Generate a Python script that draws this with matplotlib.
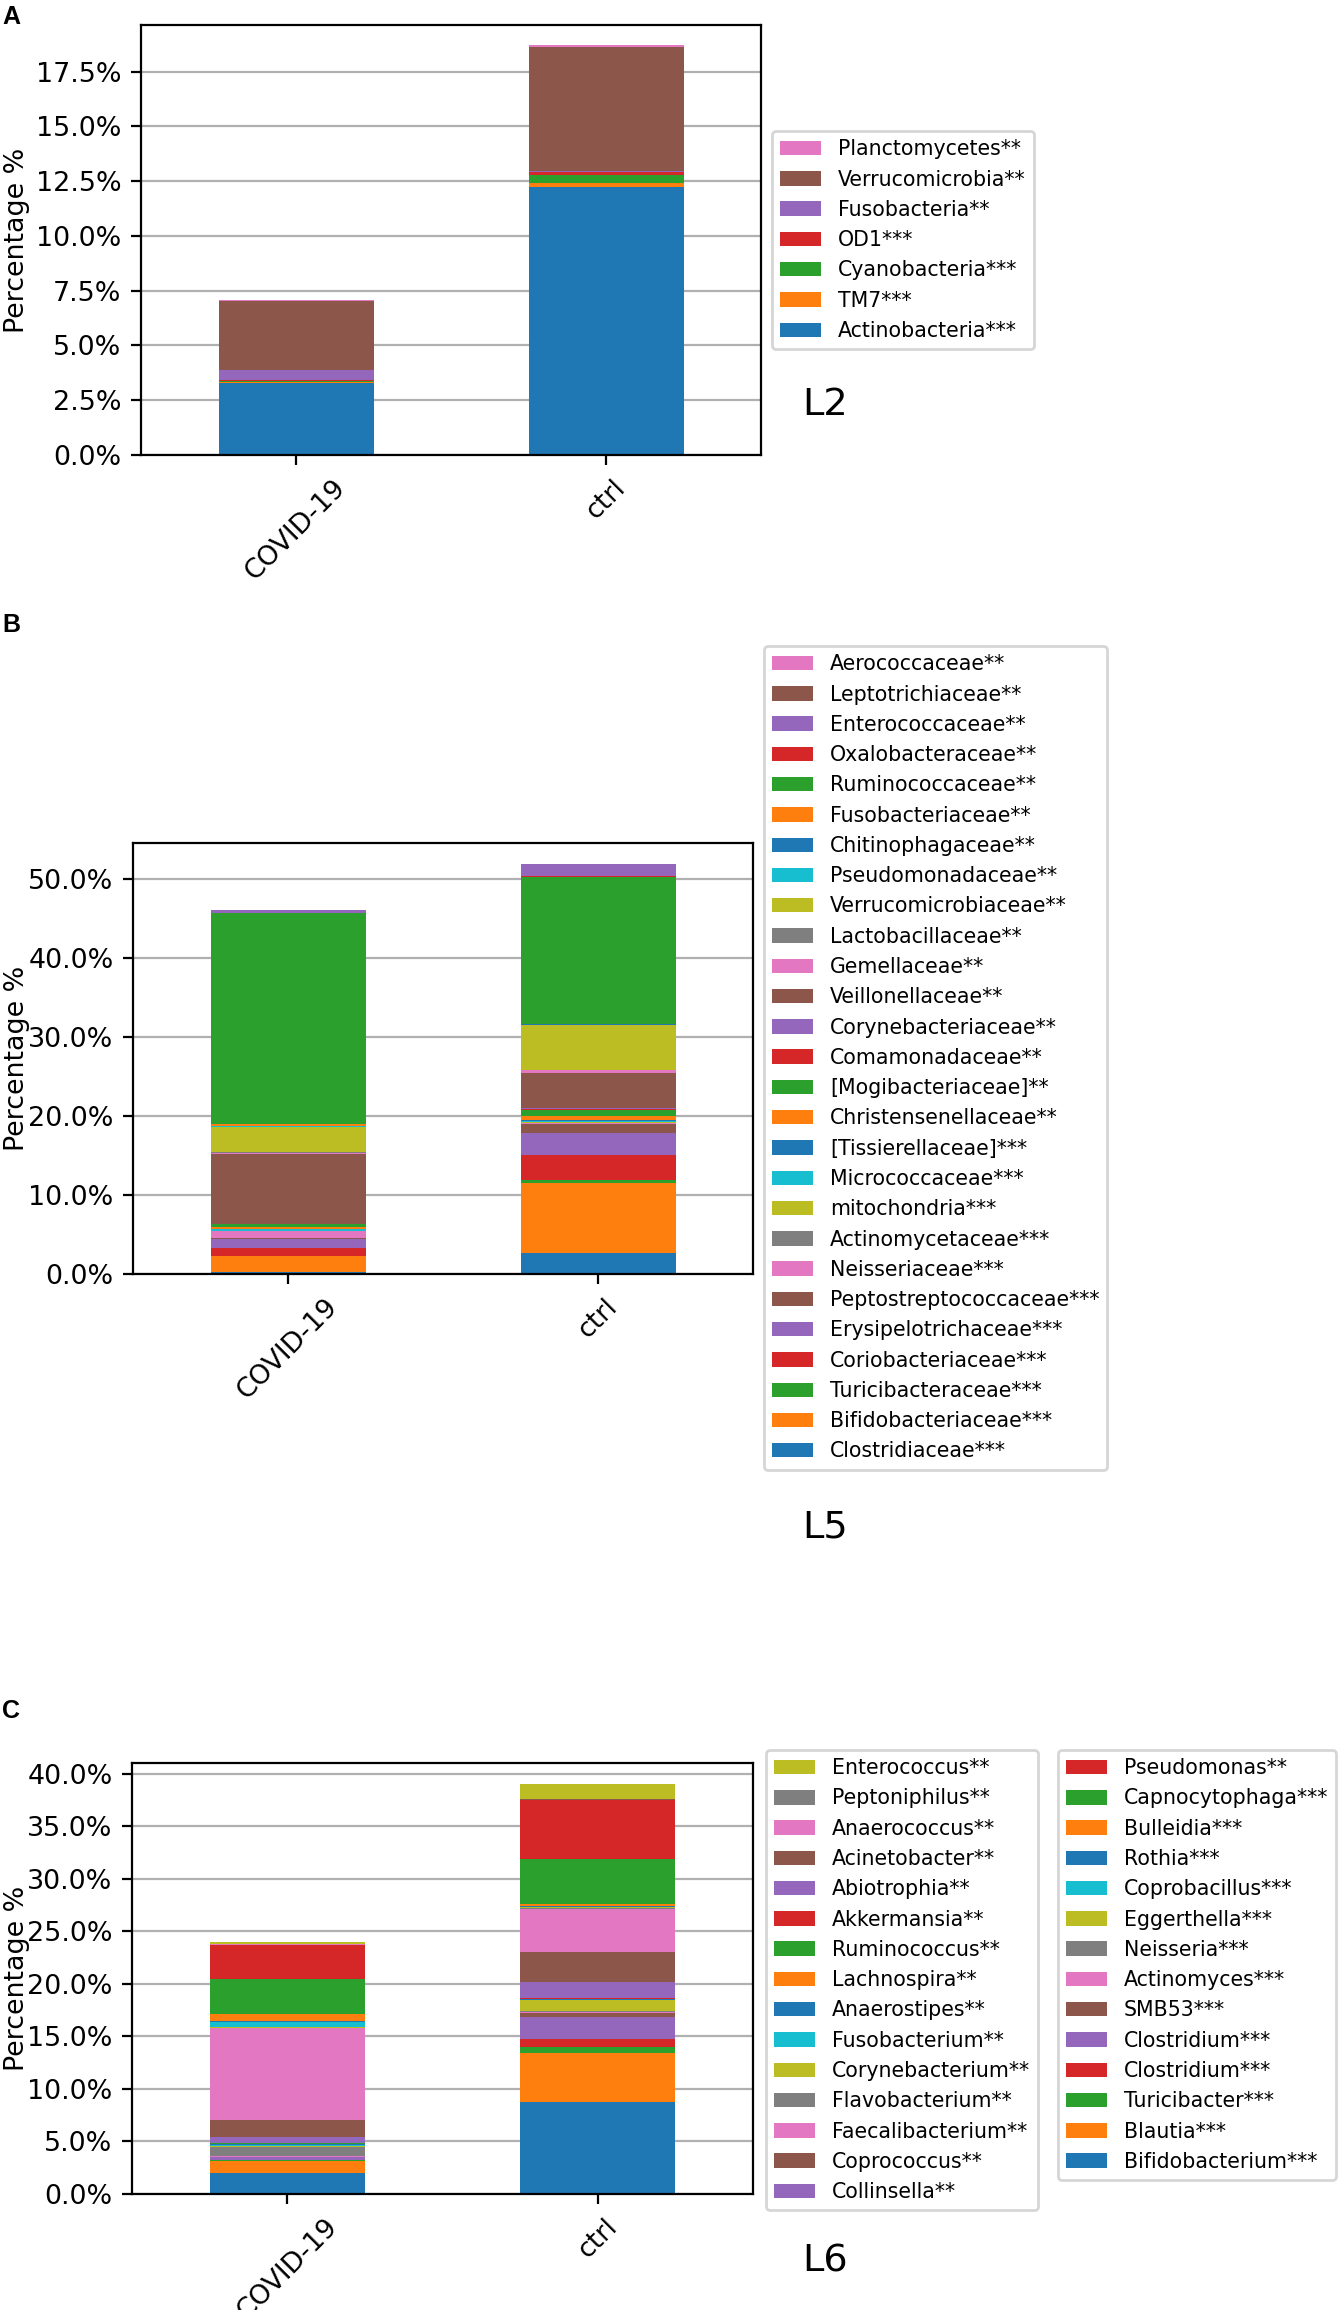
import matplotlib
matplotlib.use("Agg")
import matplotlib.pyplot as plt
from matplotlib.ticker import PercentFormatter, MultipleLocator

groups = ["COVID-19", "ctrl"]

# L2 (phylum), listed from bottom of the stack to the top
taxa_l2 = ["Actinobacteria***", "TM7***", "Cyanobacteria***", "OD1***",
           "Fusobacteria**", "Verrucomicrobia**", "Planctomycetes**"]
covid_l2 = [3.28, 0.05, 0.03, 0.07, 0.46, 3.16, 0.01]
ctrl_l2 = [12.25, 0.18, 0.33, 0.15, 0.05, 5.66, 0.07]

# L5 (family)
taxa_l5 = ["Clostridiaceae***", "Bifidobacteriaceae***", "Turicibacteraceae***",
           "Coriobacteriaceae***", "Erysipelotrichaceae***", "Peptostreptococcaceae***",
           "Neisseriaceae***", "Actinomycetaceae***", "mitochondria***",
           "Micrococcaceae***", "[Tissierellaceae]***", "Christensenellaceae**",
           "[Mogibacteriaceae]**", "Comamonadaceae**", "Corynebacteriaceae**",
           "Veillonellaceae**", "Gemellaceae**", "Lactobacillaceae**",
           "Verrucomicrobiaceae**", "Pseudomonadaceae**", "Chitinophagaceae**",
           "Fusobacteriaceae**", "Ruminococcaceae**", "Oxalobacteraceae**",
           "Enterococcaceae**", "Leptotrichiaceae**", "Aerococcaceae**"]
covid_l5 = [0.25, 2.0, 0.05, 1.0, 1.1, 0.15, 0.85, 0.05, 0.05, 0.15, 0.05, 0.3, 0.3,
            0.02, 0.03, 8.85, 0.1, 0.1, 3.25, 0.02, 0.02, 0.33, 26.6, 0.02, 0.35,
            0.02, 0.02]
ctrl_l5 = [2.61, 8.85, 0.42, 3.2, 2.7, 1.25, 0.05, 0.05, 0.1, 0.15, 0.1, 0.55, 0.75,
           0.1, 0.15, 4.45, 0.3, 0.05, 5.7, 0.02, 0.02, 0.05, 18.65, 0.05, 1.5,
           0.05, 0.05]

# L6 (genus)
taxa_l6 = ["Bifidobacterium***", "Blautia***", "Turicibacter***", "Clostridium***",
           "Clostridium***", "SMB53***", "Actinomyces***", "Neisseria***",
           "Eggerthella***", "Coprobacillus***", "Rothia***", "Bulleidia***",
           "Capnocytophaga***", "Pseudomonas**", "Collinsella**", "Coprococcus**",
           "Faecalibacterium**", "Flavobacterium**", "Corynebacterium**",
           "Fusobacterium**", "Anaerostipes**", "Lachnospira**", "Ruminococcus**",
           "Akkermansia**", "Abiotrophia**", "Acinetobacter**", "Anaerococcus**",
           "Peptoniphilus**", "Enterococcus**"]
covid_l6 = [1.97, 1.21, 0.03, 0.05, 0.25, 0.05, 0.05, 0.86, 0.13, 0.05, 0.1, 0.03,
            0.08, 0.03, 0.57, 1.6, 8.75, 0.02, 0.02, 0.54, 0.03, 0.7, 3.38, 3.18,
            0.02, 0.02, 0.02, 0.02, 0.25]
ctrl_l6 = [8.78, 4.68, 0.48, 0.82, 2.07, 0.35, 0.16, 0.03, 1.08, 0.05, 0.03, 0.03,
           0.03, 0.08, 1.53, 2.86, 4.1, 0.05, 0.05, 0.05, 0.1, 0.22, 4.2, 5.63,
           0.04, 0.04, 0.04, 0.04, 1.43]

W, H = 1338, 2310
fig = plt.figure(figsize=(W / 200, H / 200), dpi=200)

TICK_FS = 9.7
LEG_FS = 7.4


def fx(px):
    return px / W


def fy(px):
    return 1 - px / H


def stacked_panel(rect, taxa, covid, ctrl, step):
    left, top, right, bottom = rect
    ax = fig.add_axes([fx(left), fy(bottom), fx(right - left), (bottom - top) / H])
    base = [0.0, 0.0]
    for i, name in enumerate(taxa):
        vals = [covid[i], ctrl[i]]
        ax.bar([0, 1], vals, width=0.5, bottom=base, color=f"C{i % 10}", label=name)
        base = [base[0] + vals[0], base[1] + vals[1]]
    ax.set_xlim(-0.5, 1.5)
    ax.set_xticks([0, 1])
    ax.set_xticklabels(groups, rotation=45, ha="center", fontsize=TICK_FS)
    ax.tick_params(axis="y", labelsize=TICK_FS)
    ax.yaxis.set_major_locator(MultipleLocator(step))
    ax.yaxis.set_major_formatter(PercentFormatter(xmax=100, decimals=1))
    ax.yaxis.grid(True)
    ax.set_axisbelow(True)
    ax.set_ylabel("Percentage %", fontsize=TICK_FS)
    # label's right side sits about 30 px from the figure's left edge
    ax.yaxis.set_label_coords((30 - left) / (right - left), 0.5)
    h, l = ax.get_legend_handles_labels()
    return ax, h[::-1], l[::-1]


def put_legend(ax, h, l, x, y):
    leg = ax.legend(h, l, loc="upper left", bbox_to_anchor=(fx(x), fy(y)),
                    bbox_transform=fig.transFigure, borderaxespad=0, fontsize=LEG_FS)
    return leg


# panel A
axA, h, l = stacked_panel((141, 25, 761, 455), taxa_l2, covid_l2, ctrl_l2, 2.5)
put_legend(axA, h, l, 772, 131)

# panel B
axB, h, l = stacked_panel((133, 843, 753, 1274), taxa_l5, covid_l5, ctrl_l5, 10)
put_legend(axB, h, l, 764, 646)

# panel C, legend split over two boxes
axC, h, l = stacked_panel((132, 1763, 753, 2194), taxa_l6, covid_l6, ctrl_l6, 5)
first = put_legend(axC, h[:15], l[:15], 766, 1750)
axC.add_artist(first)
put_legend(axC, h[15:], l[15:], 1058, 1750)

# level tags
for txt, yb in [("L2", 415), ("L5", 1538), ("L6", 2272)]:
    fig.text(fx(802), fy(yb), txt, fontsize=13.8, va="baseline", ha="left")

# panel letters
for txt, yb in [("A", 24), ("B", 632), ("C", 1718)]:
    fig.text(fx(2), fy(yb), txt, fontsize=9, fontweight="bold",
             family=["Liberation Sans", "DejaVu Sans"], va="baseline", ha="left")

fig.savefig("out.png", dpi=200)
